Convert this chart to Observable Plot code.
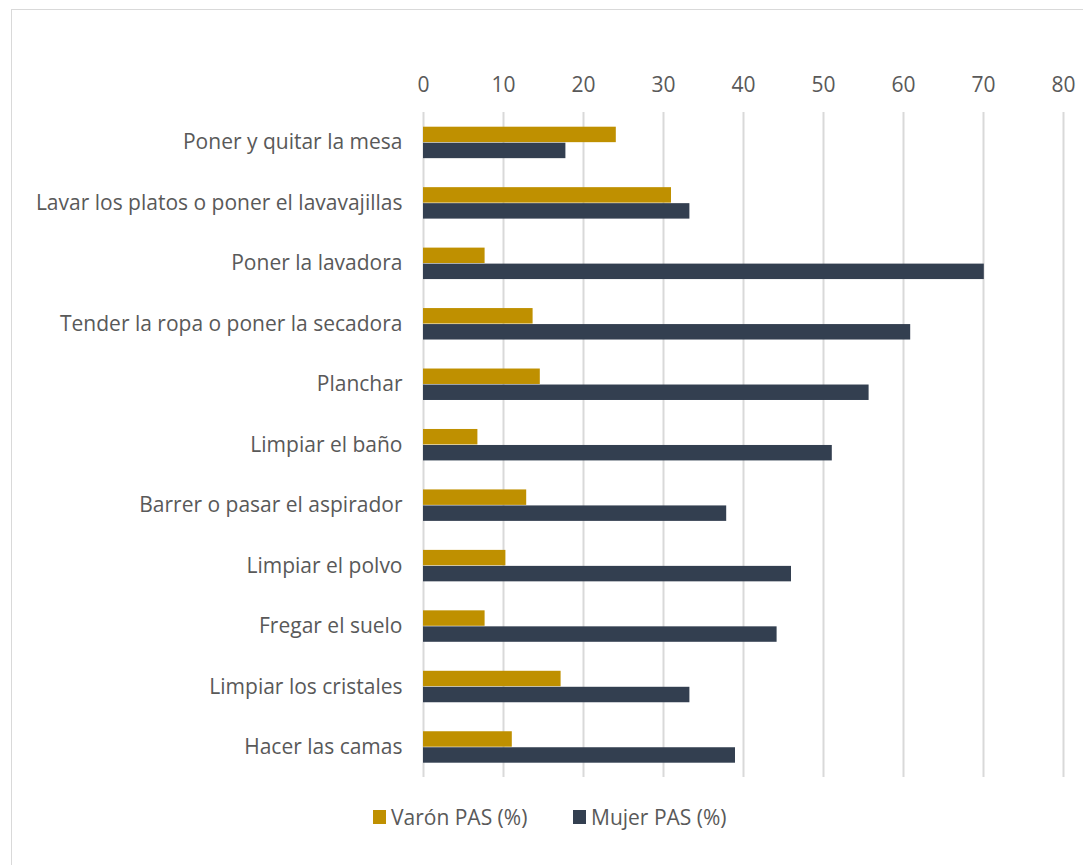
<!DOCTYPE html>
<html>
<head>
<meta charset="utf-8">
<script src="https://cdn.jsdelivr.net/npm/d3@7"></script>
<script src="https://cdn.jsdelivr.net/npm/@observablehq/plot@0.6"></script>
<style>
  html, body { margin: 0; padding: 0; background: #fff; }
  body { width: 1083px; height: 865px; position: relative; overflow: hidden; font-family: "Open Sans", Lato, sans-serif; }
  #frame { position: absolute; left: 11px; top: 9px; width: 1200px; height: 1000px; border: 1.5px solid #d9d9d9; box-sizing: border-box; }
  #chart { position: absolute; left: 0; top: 0; line-height: 0; }
  #chart svg { display: block; }
  #legend { position: absolute; top: 805px; left: 0; width: 1083px; height: 24px; font-size: 21px; color: #595959; }
  .item { position: absolute; top: 0; display: flex; align-items: center; height: 24px; }
  .sw { width: 13px; height: 14px; margin-right: 5px; }
</style>
</head>
<body>
<div id="frame"></div>
<div id="chart"></div>
<div id="legend">
  <div class="item" style="left:373px"><span class="sw" style="background:#BF9000"></span><span>Varón PAS (%)</span></div>
  <div class="item" style="left:573px"><span class="sw" style="background:#333F50"></span><span>Mujer PAS (%)</span></div>
</div>
<script>
const categories = [
  "Poner y quitar la mesa",
  "Lavar los platos o poner el lavavajillas",
  "Poner la lavadora",
  "Tender la ropa o poner la secadora",
  "Planchar",
  "Limpiar el baño",
  "Barrer o pasar el aspirador",
  "Limpiar el polvo",
  "Fregar el suelo",
  "Limpiar los cristales",
  "Hacer las camas"
];
const varon = [24.1, 31.0, 7.7, 13.7, 14.6, 6.8, 12.9, 10.3, 7.7, 17.2, 11.1];
const mujer = [17.8, 33.3, 70.1, 60.9, 55.7, 51.1, 37.9, 46.0, 44.2, 33.3, 39.0];
const xTicks = [0, 10, 20, 30, 40, 50, 60, 70, 80];
const seriesNames = ["Varón PAS (%)", "Mujer PAS (%)"];
const seriesColors = ["#BF9000", "#333F50"];

const dataV = categories.map((c, i) => ({cat: c, value: varon[i], serie: seriesNames[0]}));
const dataM = categories.map((c, i) => ({cat: c, value: mujer[i], serie: seriesNames[1]}));

const chart = Plot.plot({
  width: 1083,
  height: 790,
  marginLeft: 423,
  marginRight: 20,
  marginTop: 112,
  marginBottom: 13,
  style: {fontFamily: "'Open Sans', Lato, sans-serif", fontSize: "21px", color: "#595959", background: "transparent"},
  x: {domain: [0, 80], axis: null},
  y: {domain: categories, padding: 0, round: false, axis: null},
  color: {domain: seriesNames, range: seriesColors},
  marks: [
    Plot.gridX(xTicks, {stroke: "#d9d9d9", strokeWidth: 2, strokeOpacity: 1}),
    Plot.axisX(xTicks, {anchor: "top", label: null, tickSize: 0, tickPadding: 21, fontSize: 21, fill: "#595959", tickFormat: d => String(d)}),
    Plot.axisY({anchor: "left", label: null, tickSize: 0, tickPadding: 21, fontSize: 21, fill: "#595959"}),
    Plot.barX(dataV, {y: "cat", x: "value", fill: "serie", insetTop: 14.7, insetBottom: 30.3}),
    Plot.barX(dataM, {y: "cat", x: "value", fill: "serie", insetTop: 30.7, insetBottom: 14.3})
  ]
});
document.getElementById("chart").appendChild(chart);
</script>
</body>
</html>
